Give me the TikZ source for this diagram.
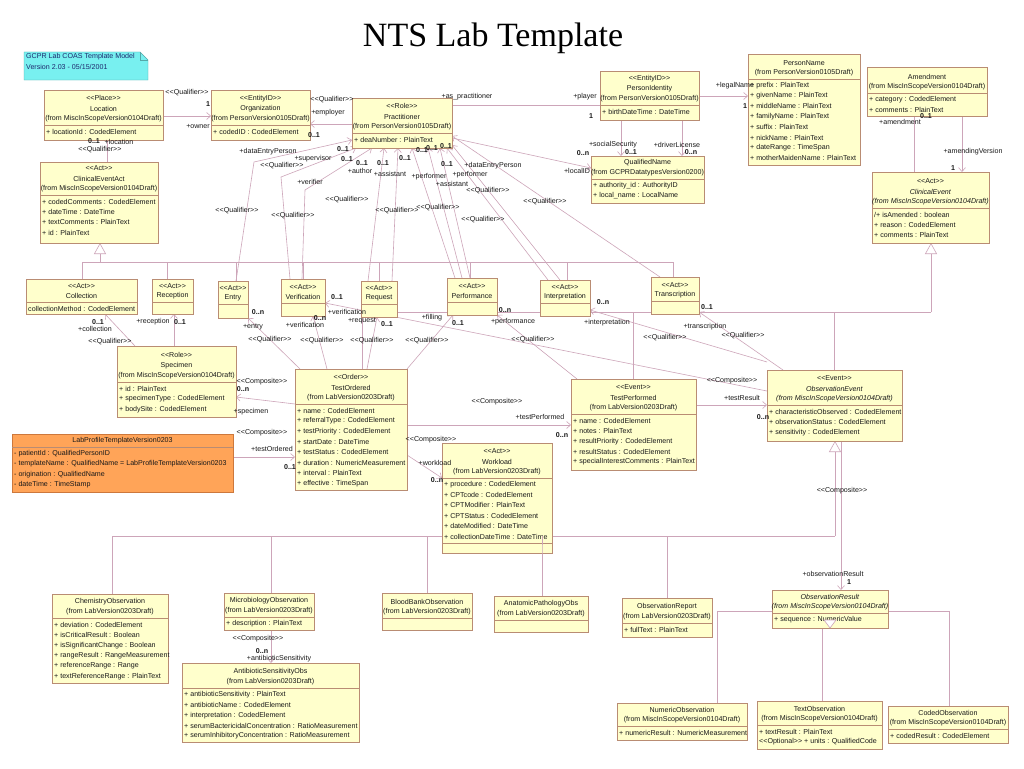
\documentclass[tikz,border=0pt]{standalone}
\usepackage{fontspec}
\newfontfamily\umlf{Liberation Sans}
\newfontfamily\titlef{Liberation Serif}
\usetikzlibrary{arrows.meta,calc}
\definecolor{boxfill}{RGB}{255,255,204}
\definecolor{boxdraw}{RGB}{185,140,115}
\definecolor{linec}{RGB}{205,165,185}
\definecolor{orfill}{RGB}{255,164,88}
\definecolor{ordraw}{RGB}{205,120,60}
\definecolor{notefill}{RGB}{120,240,240}
\definecolor{notetext}{RGB}{30,40,110}
\definecolor{txt}{RGB}{25,25,25}
\tikzset{
 umlbox/.style={draw=boxdraw, fill=boxfill, line width=0.6pt, inner sep=0, outer sep=0},
 orbox/.style={umlbox, draw=ordraw, fill=orfill},
 curbox/.style={umlbox},
 sepline/.style={draw=boxdraw, line width=0.5pt},
 hdr/.style={font=\umlf\fontsize{7.1}{8}\selectfont, text=txt, inner sep=0, anchor=center},
 attr/.style={hdr, anchor=west},
 lbl/.style={hdr},
 mult/.style={hdr, font=\umlf\bfseries\fontsize{7.1}{8}\selectfont},
 assoc/.style={draw=linec, line width=0.6pt},
 nav/.style={assoc, -{Straight Barb[length=4pt,width=7pt]}},
 gen/.style={assoc, -{Triangle[length=11pt,width=12pt,fill=white]}},
 gbox/.style={draw=none, inner sep=0, outer sep=0},
}
\newcommand\umlbox[8]{%
 \node[curbox, minimum width={(#4)-(#2)}, minimum height={(#5)-(#3)}] (#1) at ({((#2)+(#4))/2},{((#3)+(#5))/2}) {};
 \draw[sepline] (#1.west |- 0,#6) -- (#1.east |- 0,#6);
 \foreach \bt [count=\nn] in {#7} {\xdef\hc{\nn}}
 \foreach \bt [count=\nn] in {#7} {\node[hdr] (#1-h\nn) at ({((#2)+(#4))/2},{#6-6-10.4*(\hc-\nn)}) {\bt};}
 \if\relax\detokenize{#8}\relax\else
 \foreach \bt [count=\nn] in {#8} {\node[attr] (#1-a\nn) at ({#2+2},{#6+6.5+10.4*(\nn-1)}) {\bt};}
 \fi
}
\newcommand\gb[5]{\node[gbox, minimum width={(#4)-(#2)}, minimum height={(#5)-(#3)}] (#1) at ({((#2)+(#4))/2},{((#3)+(#5))/2}) {};}
\newcounter{lbc}
\newcommand\lb[2]{\stepcounter{lbc}\node[lbl] (lab\arabic{lbc}) at (#1) {#2};}
\newcommand\lm[2]{\stepcounter{lbc}\node[mult] (lab\arabic{lbc}) at (#1) {#2};}
\begin{document}
\begin{tikzpicture}[x=1pt,y=-1pt]
\useasboundingbox (0,0) rectangle (1024,768);
\fill[white] (0,0) rectangle (1024,768);
\node[font=\titlef\fontsize{34}{40}\selectfont, anchor=base, inner sep=0] (title) at (493,47) {NTS Lab Template};
% note
\fill[notefill] (24,52) -- (140,52) -- (148,60) -- (148,80) -- (24,80) -- cycle;
\draw[notefill!70!black, line width=0.4pt] (24,52) -- (140,52) -- (148,60) -- (148,80) -- (24,80) -- cycle;
\draw[notefill!70!black, line width=0.4pt] (140,52) -- (140,60) -- (148,60);
\node[attr, text=notetext] (note1) at (26,57) {GCPR Lab COAS Template Model};
\node[attr, text=notetext] (note2) at (26,67) {Version 2.03 - 05/15/2001};

% junction points of the generalisation trees
\coordinate (j1) at (100,262);
\coordinate (j2) at (931,312);
\coordinate (j3) at (835,536);
\coordinate (j4) at (822,611);

% geometry nodes (invisible) so that connectors can be drawn under the boxes
\gb{location}{44}{90}{163}{140}
\gb{organization}{211}{90}{310}{140}
\gb{practitioner}{352}{98}{452}{148}
\gb{personidentity}{600}{71}{699}{120}
\gb{qualifiedname}{591}{156}{704}{203}
\gb{personname}{748}{54}{860}{165}
\gb{amendment}{867}{67}{987}{116}
\gb{clinicalevent}{872}{172}{989}{243}
\gb{clinicaleventact}{40}{162}{158}{243}
\gb{collection}{26}{279}{137}{314}
\gb{reception}{152}{279}{193}{314}
\gb{entry}{218}{281}{248}{318}
\gb{verification}{281}{279}{325}{316}
\gb{request}{361}{281}{397}{317}
\gb{performance}{447}{278}{497}{315}
\gb{interpretation}{540}{280}{590}{316}
\gb{transcription}{651}{277}{699}{314}
\gb{specimen}{117}{346}{236}{417}
\gb{labprofile}{12}{434}{233}{492}
\gb{testordered}{295}{369}{407}{490}
\gb{workload}{442}{443}{552}{553}
\gb{testperformed}{571}{379}{696}{470}
\gb{observationevent}{767}{370}{902}{441}
\gb{chemistry}{52}{594}{168}{683}
\gb{microbiology}{224}{593}{314}{630}
\gb{antibiotic}{182}{663}{359}{742}
\gb{bloodbank}{382}{593}{472}{630}
\gb{anatomic}{494}{596}{588}{632}
\gb{obsreport}{622}{598}{712}{637}
\gb{obsresult}{772}{590}{888}{628}
\gb{numeric}{617}{703}{747}{740}
\gb{textobs}{757}{701}{882}{749}
\gb{coded}{888}{706}{1008}{743}

% ---------- generalisation trees
\foreach \b/\x in {collection/82, reception/167, entry/236, verification/303, request/379, performance/470, interpretation/567, transcription/673}
  {\draw[assoc] (\b.north -| \x,0) |- (j1);}
\draw[gen] (j1) -- (clinicaleventact.south -| j1);
\foreach \b/\x in {testordered/362, testperformed/633, observationevent/834}
  {\draw[assoc] (\b.north -| \x,0) |- (j2);}
\draw[gen] (j2) -- (clinicalevent.south -| j2);
\foreach \b/\x in {chemistry/112, microbiology/271, bloodbank/427, anatomic/542, obsreport/667}
  {\draw[assoc] (\b.north -| \x,0) |- (j3);}
\draw[gen] (j3) -- (observationevent.south -| j3);
\draw[assoc] (numeric.north -| 717,0) |- (j4);
\draw[assoc] (coded.north -| 949,0) |- (j4);
\draw[assoc] (textobs.north -| 822,0) -- (j4);

% ---------- associations
\draw[nav] (location.east |- 0,116) -- (organization.west |- 0,116);
\draw[nav] (practitioner.west |- 0,124) -- (organization.east |- 0,124);
\draw[assoc] (practitioner.east |- 0,105) -- (personidentity.west |- 0,105);
\draw[nav] (personidentity.east |- 0,96) -- (personname.west |- 0,96);
\draw[nav] (personidentity.south -| 621,0) -- (qualifiedname.north -| 621,0);
\draw[nav] (personidentity.south -| 682,0) -- (qualifiedname.north -| 682,0);
\draw[nav] (practitioner.east |- 0,138) -- (qualifiedname.west |- 0,168);
\draw[assoc] (location.south -| 107,0) -- (clinicaleventact.north -| 107,0);
\draw[assoc] (amendment.south -| 914,0) -- (clinicalevent.north -| 914,0);
\draw[nav] (amendment.south -| 962,0) -- (clinicalevent.north -| 962,0);
% practitioner qualifiers
\draw[nav] (entry.north -| 236,0) -- (254,162) -- (practitioner.west |- 0,140);
\draw[nav] (verification.north -| 290,0) -- (281,177) -- (practitioner.south -| 356,0);
\draw[nav] (verification.north -| 302,0) -- (305,190) -- (practitioner.south -| 372,0);
\draw[nav] (request.north -| 368,0) -- (practitioner.south -| 384,0);
\draw[nav] (request.north -| 392,0) -- (practitioner.south -| 398,0);
\draw[nav] (performance.north -| 455,0) -- (practitioner.south -| 412,0);
\draw[nav] (performance.north -| 462,0) -- (practitioner.south -| 428,0);
\draw[nav] (performance.north -| 470,0) -- (practitioner.south -| 440,0);
\draw[nav] (interpretation.north -| 548,0) -- (practitioner.south -| 447,0);
\draw[nav] (interpretation.north -| 560,0) -- (practitioner.east |- 0,145);
\draw[nav] (transcription.north -| 660,0) -- (practitioner.east |- 0,136);
% specimen / acts / orders
\draw[nav] (specimen.north -| 135,0) -- (collection.south -| 105,0);
\draw[nav] (specimen.north -| 174,0) -- (reception.south -| 174,0);
\draw[nav] (testordered.north -| 300,0) -- (entry.south east);
\draw[nav] (testordered.north -| 327,0) -- (verification.south -| 313,0);
\draw[nav] (testordered.north -| 367,0) -- (request.south -| 377,0);
\draw[nav] (testordered.north east) -- (performance.south -| 453,0);
\draw[nav] (observationevent.west |- 0,391) -- (verification.east |- 0,303);
\draw[nav] (testperformed.north -| 577,0) -- (performance.south east);
\draw[nav] (observationevent.west |- 0,362) -- (interpretation.east |- 0,310);
\draw[nav] (observationevent.north -| 783,0) -- (transcription.east |- 0,312);
\draw[nav] (testperformed.east |- 0,405) -- (observationevent.west |- 0,405);
\draw[nav] (testordered.west |- 0,404) -- (specimen.east |- 0,397);
\draw[nav] (labprofile.east |- 0,457) -- (testordered.west |- 0,457);
\draw[nav] (testordered.east |- 0,425) -- (testperformed.west |- 0,425);
\draw[nav] (testordered.east |- 0,455) -- (workload.west |- 0,478);
\draw[nav] (observationevent.south -| 841,0) -- (obsresult.north -| 841,0);
\draw[nav] (microbiology.south -| 271,0) -- (antibiotic.north -| 271,0);

% ---------- visible boxes
\umlbox{location}{44}{90}{163}{140}{125}{<<Place>>,Location,(from MiscInScopeVersion0104Draft)}{+ locationId : CodedElement}
\umlbox{organization}{211}{90}{310}{140}{125}{<<EntityID>>,Organization,(from PersonVersion0105Draft)}{+ codedID : CodedElement}
\umlbox{practitioner}{352}{98}{452}{148}{133}{<<Role>>,Practitioner,(from PersonVersion0105Draft)}{+ deaNumber : PlainText}
\umlbox{personidentity}{600}{71}{699}{120}{105}{<<EntityID>>,PersonIdentity,(from PersonVersion0105Draft)}{+ birthDateTime : DateTime}
\umlbox{qualifiedname}{591}{156}{704}{203}{179}{QualifiedName,(from GCPRDatatypesVersion0200)}{+ authority\_id : AuthorityID,+ local\_name : LocalName}
\umlbox{personname}{748}{54}{860}{165}{79}{PersonName,(from PersonVersion0105Draft)}{+ prefix : PlainText,+ givenName : PlainText,+ middleName : PlainText,+ familyName : PlainText,+ suffix : PlainText,+ nickName : PlainText,+ dateRange : TimeSpan,+ motherMaidenName : PlainText}
\umlbox{amendment}{867}{67}{987}{116}{93}{Amendment,(from MiscInScopeVersion0104Draft)}{+ category : CodedElement,+ comments : PlainText}
\umlbox{clinicalevent}{872}{172}{989}{243}{208}{<<Act>>,\textit{ClinicalEvent},\textit{(from MiscInScopeVersion0104Draft)}}{/+ isAmended : boolean,+ reason : CodedElement,+ comments : PlainText}
\umlbox{clinicaleventact}{40}{162}{158}{243}{195}{<<Act>>,ClinicalEventAct,(from MiscInScopeVersion0104Draft)}{+ codedComments : CodedElement,+ dateTime : DateTime,+ textComments : PlainText,+ id : PlainText}
\umlbox{collection}{26}{279}{137}{314}{302}{<<Act>>,Collection}{collectionMethod : CodedElement}
\umlbox{reception}{152}{279}{193}{314}{302}{<<Act>>,Reception}{}
\umlbox{entry}{218}{281}{248}{318}{304}{<<Act>>,Entry}{}
\umlbox{verification}{281}{279}{325}{316}{303}{<<Act>>,Verification}{}
\umlbox{request}{361}{281}{397}{317}{304}{<<Act>>,Request}{}
\umlbox{performance}{447}{278}{497}{315}{302}{<<Act>>,Performance}{}
\umlbox{interpretation}{540}{280}{590}{316}{303}{<<Act>>,Interpretation}{}
\umlbox{transcription}{651}{277}{699}{314}{301}{<<Act>>,Transcription}{}
\umlbox{specimen}{117}{346}{236}{417}{382}{<<Role>>,Specimen,(from MiscInScopeVersion0104Draft)}{+ id : PlainText,+ specimenType : CodedElement,+ bodySite : CodedElement}
\tikzset{curbox/.style={orbox}}
\umlbox{labprofile}{12}{434}{233}{492}{447}{LabProfileTemplateVersion0203}{- patientId : QualifiedPersonID,- templateName : QualifiedName = LabProfileTemplateVersion0203,- origination : QualifiedName,- dateTime : TimeStamp}
\tikzset{curbox/.style={umlbox}}
\umlbox{testordered}{295}{369}{407}{490}{404}{<<Order>>,TestOrdered,(from LabVersion0203Draft)}{+ name : CodedElement,+ referralType : CodedElement,+ testPriority : CodedElement,+ startDate : DateTime,+ testStatus : CodedElement,+ duration : NumericMeasurement,+ interval : PlainText,+ effective : TimeSpan}
\umlbox{workload}{442}{443}{552}{553}{478}{<<Act>>,Workload,(from LabVersion0203Draft)}{+ procedure : CodedElement,+ CPTcode : CodedElement,+ CPTModifier : PlainText,+ CPTStatus : CodedElement,+ dateModified : DateTime,+ collectionDateTime : DateTime}
\draw[sepline] (workload.west |- 0,543) -- (workload.east |- 0,543);
\draw[assoc] (anatomic.north -| 542,0) -- (workload.south -| 542,0) -- ++(0,-17);
\umlbox{testperformed}{571}{379}{696}{470}{414}{<<Event>>,TestPerformed,(from LabVersion0203Draft)}{+ name : CodedElement,+ notes : PlainText,+ resultPriority : CodedElement,+ resultStatus : CodedElement,+ specialInterestComments : PlainText}
\umlbox{observationevent}{767}{370}{902}{441}{405}{<<Event>>,\textit{ObservationEvent},\textit{(from MiscInScopeVersion0104Draft)}}{+ characteristicObserved : CodedElement,+ observationStatus : CodedElement,+ sensitivity : CodedElement}
\umlbox{chemistry}{52}{594}{168}{683}{618}{ChemistryObservation,(from LabVersion0203Draft)}{+ deviation : CodedElement,+ isCriticalResult : Boolean,+ isSignificantChange : Boolean,+ rangeResult : RangeMeasurement,+ referenceRange : Range,+ textReferenceRange : PlainText}
\umlbox{microbiology}{224}{593}{314}{630}{617}{MicrobiologyObservation,(from LabVersion0203Draft)}{+ description : PlainText}
\umlbox{antibiotic}{182}{663}{359}{742}{688}{AntibioticSensitivityObs,(from LabVersion0203Draft)}{+ antibioticSensitivity : PlainText,+ antibioticName : CodedElement,+ interpretation : CodedElement,+ serumBactericidalConcentration : RatioMeasurement,+ serumInhibitoryConcentration : RatioMeasurement}
\umlbox{bloodbank}{382}{593}{472}{630}{618}{BloodBankObservation,(from LabVersion0203Draft)}{}
\umlbox{anatomic}{494}{596}{588}{632}{620}{AnatomicPathologyObs,(from LabVersion0203Draft)}{}
\umlbox{obsreport}{622}{598}{712}{637}{623}{ObservationReport,(from LabVersion0203Draft)}{+ fullText : PlainText}
\umlbox{obsresult}{772}{590}{888}{628}{613}{\textit{ObservationResult},\textit{(from MiscInScopeVersion0104Draft)}}{+ sequence : NumericValue}
\filldraw[draw=linec, fill=white, line width=0.6pt] (obsresult.south -| 824,0) ++(0,-8) coordinate (tri1) -- ++(12,0) -- (obsresult.south -| 830,0) -- cycle;
\umlbox{numeric}{617}{703}{747}{740}{726}{NumericObservation,(from MiscInScopeVersion0104Draft)}{+ numericResult : NumericMeasurement}
\umlbox{textobs}{757}{701}{882}{749}{725}{TextObservation,(from MiscInScopeVersion0104Draft)}{+ textResult : PlainText,<<Optional>> + units : QualifiedCode}
\umlbox{coded}{888}{706}{1008}{743}{729}{CodedObservation,(from MiscInScopeVersion0104Draft)}{+ codedResult : CodedElement}

% ---------- labels
\lb{187,93}{<<Qualifier>>}
\lm{208,104}{1}
\lb{198,126}{+owner}
\lb{332,100}{<<Qualifier>>}
\lb{328,113}{+employer}
\lm{314,135}{0..1}
\lb{467,97}{+as\_practitioner}
\lb{585,97}{+player}
\lm{591,116}{1}
\lb{735,86}{+legalName}
\lm{745,106}{1}
\lb{613,145}{+socialSecurity}
\lm{631,152}{0..1}
\lb{677,145}{+driverLicense}
\lm{691,152}{0..n}
\lm{583,153}{0..n}
\lb{577,171}{+localID}
\lb{119,142}{+location}
\lm{94,141}{0..1}
\lb{100,150}{<<Qualifier>>}
\lb{900,122}{+amendment}
\lm{926,116}{0..1}
\lb{973,152}{+amendingVersion}
\lm{953,168}{1}
\lm{98,322}{0..1}
\lb{95,329}{+collection}
\lb{110,342}{<<Qualifier>>}
\lb{153,322}{+reception}
\lm{180,322}{0..1}
\lm{258,312}{0..n}
\lb{253,327}{+entry}
\lb{270,340}{<<Qualifier>>}
\lm{337,297}{0..1}
\lb{347,312}{+verification}
\lm{320,318}{0..n}
\lb{305,325}{+verification}
\lb{322,341}{<<Qualifier>>}
\lb{362,321}{+request}
\lm{387,324}{0..1}
\lb{372,341}{<<Qualifier>>}
\lb{432,318}{+filling}
\lm{458,323}{0..1}
\lb{427,341}{<<Qualifier>>}
\lm{505,310}{0..n}
\lb{513,322}{+performance}
\lb{533,340}{<<Qualifier>>}
\lm{603,302}{0..n}
\lb{607,323}{+interpretation}
\lb{665,338}{<<Qualifier>>}
\lm{707,307}{0..1}
\lb{705,327}{+transcription}
\lb{743,336}{<<Qualifier>>}
\lb{732,381}{<<Composite>>}
\lb{742,398}{+testResult}
\lm{763,417}{0..n}
\lb{262,382}{<<Composite>>}
\lm{243,389}{0..n}
\lb{251,412}{+specimen}
\lb{262,433}{<<Composite>>}
\lb{272,449}{+testOrdered}
\lm{290,467}{0..1}
\lb{497,402}{<<Composite>>}
\lb{540,417}{+testPerformed}
\lm{562,435}{0..n}
\lb{431,440}{<<Composite>>}
\lb{435,463}{+workload}
\lm{437,480}{0..n}
\lb{842,491}{<<Composite>>}
\lb{833,574}{+observationResult}
\lm{849,582}{1}
\lb{258,639}{<<Composite>>}
\lb{279,659}{+antibioticSensitivity}
\lm{262,651}{0..n}
\lb{268,152}{+dataEntryPerson}
\lb{282,166}{<<Qualifier>>}
\lb{313,159}{+supervisor}
\lm{343,149}{0..1}
\lm{347,159}{0..1}
\lm{362,163}{0..1}
\lm{383,163}{0..1}
\lm{405,158}{0..1}
\lm{422,150}{0..1}
\lm{432,148}{0..1}
\lm{446,146}{0..1}
\lm{447,164}{0..1}
\lb{360,171}{+author}
\lb{390,174}{+assistant}
\lb{429,177}{+performer}
\lb{470,175}{+performer}
\lb{452,184}{+assistant}
\lb{493,166}{+dataEntryPerson}
\lb{310,182}{+verifier}
\lb{347,200}{<<Qualifier>>}
\lb{397,211}{<<Qualifier>>}
\lb{438,208}{<<Qualifier>>}
\lb{293,216}{<<Qualifier>>}
\lb{237,211}{<<Qualifier>>}
\lb{488,191}{<<Qualifier>>}
\lb{483,220}{<<Qualifier>>}
\lb{545,202}{<<Qualifier>>}
\end{tikzpicture}
\end{document}
